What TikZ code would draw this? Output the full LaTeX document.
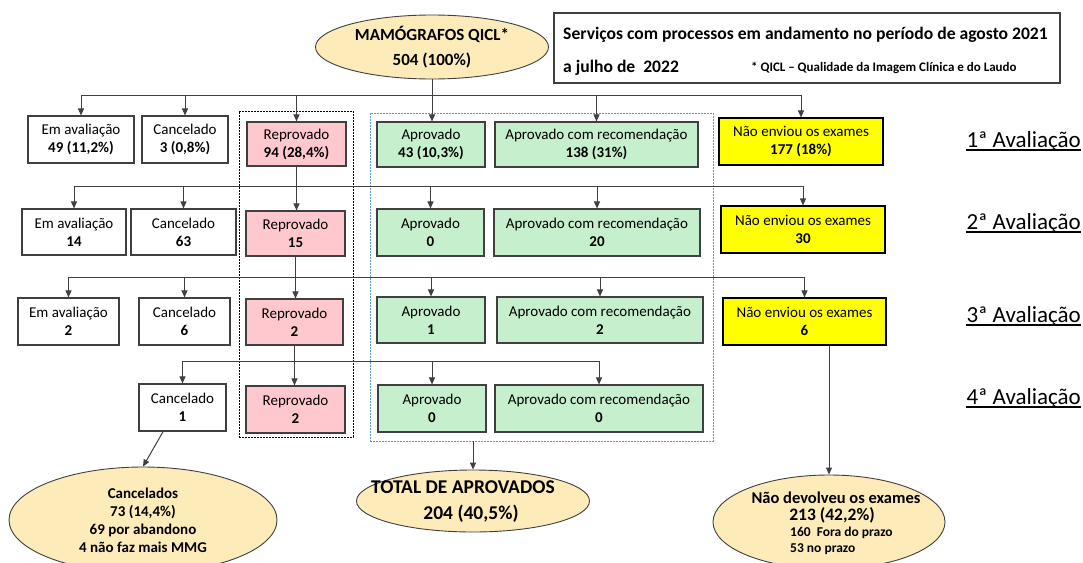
\documentclass[tikz,border=0pt]{standalone}
\usepackage{fontspec}
\setmainfont{Carlito}
\usetikzlibrary{arrows.meta,calc,shapes.geometric}
\definecolor{pinkf}{HTML}{FFC7CE}
\definecolor{greenf}{HTML}{C6EFCE}
\definecolor{yellowf}{HTML}{FFFF00}
\definecolor{beige}{HTML}{FDEBBA}
\definecolor{edge}{HTML}{404040}
\definecolor{bluedash}{HTML}{5B9BD5}
\begin{document}
\begin{tikzpicture}[x=1pt,y=-1pt,
  box/.style={draw=edge, line width=1.1pt, inner sep=0pt, align=center, font=\fontsize{15}{18}\selectfont},
  wbox/.style={box, fill=white},
  rbox/.style={box, fill=pinkf},
  gbox/.style={box, fill=greenf},
  ybox/.style={box, fill=yellowf, draw=black},
  ell/.style={ellipse, draw=edge, fill=beige, line width=0.9pt, inner sep=0pt, align=center},
  ln/.style={draw=edge, line width=1pt},
  arr/.style={draw=edge, line width=1pt, -{Triangle[length=7pt,width=6pt]}},
  lab/.style={anchor=base east, inner sep=0pt, font=\fontsize{23}{23}\selectfont},
  ul/.style={line width=1.4pt}
]
\useasboundingbox (0,0) rectangle (1083,562);

% frames
\node[draw=black, line width=0.8pt, dash pattern=on 2pt off 1pt, minimum width=114pt, minimum height=326pt, inner sep=0pt] (RF) at (296,274) {};
\node[draw=bluedash, line width=0.8pt, dash pattern=on 2pt off 1pt, minimum width=343pt, minimum height=328pt, inner sep=0pt] (AF) at (541.5,277) {};

% header
\node[draw=edge, line width=1.1pt, minimum width=506pt, minimum height=70pt, inner sep=0pt] (HB) at (807,48) {};
\node[anchor=west, inner sep=0pt, font=\bfseries\fontsize{17.6}{20}\selectfont] (H1) at (563,35) {Serviços com processos em andamento no período de agosto 2021};
\node[anchor=west, inner sep=0pt, font=\bfseries\fontsize{17.6}{20}\selectfont] (H2) at (563,68) {a julho de\ \ 2022};
\node[anchor=west, inner sep=0pt, font=\bfseries\fontsize{13}{15}\selectfont] (H3) at (751,68) {* QICL – Qualidade da Imagem Clínica e do Laudo};

% top ellipse
\node[ell, minimum width=233pt, minimum height=64pt, font=\bfseries\fontsize{17}{25}\selectfont] (M) at (432,47) {MAMÓGRAFOS QICL*\\504 (100\%)};

% row 1
\node[wbox, minimum width=106pt, minimum height=47pt] (EA1) at (81,139.5) {Em avaliação\\\textbf{49 (11,2\%)}};
\node[wbox, minimum width=86pt, minimum height=47pt] (C1) at (185,139.5) {Cancelado\\\textbf{3 (0,8\%)}};
\node[rbox, minimum width=99pt, minimum height=44pt] (R1) at (296.5,144) {Reprovado\\\textbf{94 (28,4\%)}};
\node[gbox, minimum width=108pt, minimum height=45pt] (A1) at (431,144.5) {Aprovado\\\textbf{43 (10,3\%)}};
\node[gbox, minimum width=203pt, minimum height=45pt] (AR1) at (596.5,144.5) {Aprovado com recomendação\\\textbf{138 (31\%)}};
\node[ybox, minimum width=164pt, minimum height=47pt] (NE1) at (801,141.5) {Não enviou os exames\\\textbf{177 (18\%)}};

% row 2
\node[wbox, minimum width=104pt, minimum height=46pt] (EA2) at (74,232) {Em avaliação\\\textbf{14}};
\node[wbox, minimum width=105pt, minimum height=46pt] (C2) at (183.5,232) {Cancelado\\\textbf{63}};
\node[rbox, minimum width=99pt, minimum height=45pt] (R2) at (295.5,233.5) {Reprovado\\\textbf{15}};
\node[gbox, minimum width=107pt, minimum height=47pt] (A2) at (430.5,232.5) {Aprovado\\\textbf{0}};
\node[gbox, minimum width=206pt, minimum height=47pt] (AR2) at (597,232.5) {Aprovado com recomendação\\\textbf{20}};
\node[ybox, minimum width=164pt, minimum height=47pt] (NE2) at (803,229.5) {Não enviou os exames\\\textbf{30}};

% row 3
\node[wbox, minimum width=101pt, minimum height=47pt] (EA3) at (68.5,321.5) {Em avaliação\\\textbf{2}};
\node[wbox, minimum width=91pt, minimum height=47pt] (C3) at (184.5,321.5) {Cancelado\\\textbf{6}};
\node[rbox, minimum width=97pt, minimum height=46pt] (R3) at (294.5,322) {Reprovado\\\textbf{2}};
\node[gbox, minimum width=108pt, minimum height=46pt] (A3) at (431,320) {Aprovado\\\textbf{1}};
\node[gbox, minimum width=206pt, minimum height=46pt] (AR3) at (600,320) {Aprovado com recomendação\\\textbf{2}};
\node[ybox, minimum width=163pt, minimum height=47pt] (NE3) at (804.5,321.5) {Não enviou os exames\\\textbf{6}};

% row 4
\node[wbox, minimum width=87pt, minimum height=47pt] (C4) at (182.5,407.5) {Cancelado\\\textbf{1}};
\node[rbox, minimum width=99pt, minimum height=47pt] (R4) at (295.5,409.5) {Reprovado\\\textbf{2}};
\node[gbox, minimum width=108pt, minimum height=47pt] (A4) at (432,408.5) {Aprovado\\\textbf{0}};
\node[gbox, minimum width=208pt, minimum height=47pt] (AR4) at (599,408.5) {Aprovado com recomendação\\\textbf{0}};

% bottom ellipses
\node[ell, minimum width=268pt, minimum height=106pt, font=\bfseries\fontsize{15}{18}\selectfont] (CE) at (143,520) {Cancelados\\73 (14,4\%)\\69 por abandono\\4 não faz mais MMG};
\node[ell, minimum width=233pt, minimum height=62pt] (T) at (473,501) {};
\node[inner sep=0pt, font=\bfseries\fontsize{19.5}{22}\selectfont] (T1) at (463,487) {TOTAL DE APROVADOS};
\node[inner sep=0pt, font=\bfseries\fontsize{19.5}{22}\selectfont] (T2) at (471,514) {204 (40,5\%)};
\node[ell, minimum width=232pt, minimum height=94pt] (ND) at (829,522) {};
\node[inner sep=0pt, font=\bfseries\fontsize{16.5}{18}\selectfont] (ND1) at (836,498) {Não devolveu os exames};
\node[inner sep=0pt, font=\bfseries\fontsize{17.5}{19}\selectfont] (ND2) at (832,515) {213 (42,2\%)};
\node[anchor=west, inner sep=0pt, font=\bfseries\fontsize{13.5}{15}\selectfont] (ND3) at (790,533) {160\ \ Fora do prazo};
\node[anchor=west, inner sep=0pt, font=\bfseries\fontsize{13.5}{15}\selectfont] (ND4) at (790,549) {53 no prazo};

% labels
\node[lab] (L1) at (1081,147) {1ª Avaliação};
\node[lab] (L2) at (1081,229) {2ª Avaliação};
\node[lab] (L3) at (1081,322) {3ª Avaliação};
\node[lab] (L4) at (1081,404) {4ª Avaliação};
\foreach \l in {L1,L2,L3,L4}
  \draw[ul] ([yshift=-3pt]\l.base west) -- ([yshift=-3pt]\l.base east);

% level coordinates
\coordinate (h1) at (0,95);
\coordinate (h2) at (0,186);
\coordinate (h3) at (0,277);
\coordinate (h4) at (0,361);

% row 1 connectors
\draw[arr] (M.south) -- (M.south |- A1.north);
\draw[ln] (EA1.north |- h1) -- (NE1.north |- h1);
\foreach \b in {EA1,C1,R1,AR1,NE1}
  \draw[arr] (\b.north |- h1) -- (\b.north);

% reprovado chain
\draw[arr] (R1.south) -- (R1.south |- R2.north);
\draw[arr] (R2.south) -- (R2.south |- R3.north);
\draw[arr] (R3.south) -- (R3.south |- R4.north);

% row 2
\draw[ln] (EA2.north |- h2) -- (NE2.north |- h2);
\foreach \b in {EA2,C2,A2,AR2,NE2}
  \draw[arr] (\b.north |- h2) -- (\b.north);

% row 3
\draw[ln] (EA3.north |- h3) -- (NE3.north |- h3);
\foreach \b in {EA3,C3,A3,AR3,NE3}
  \draw[arr] (\b.north |- h3) -- (\b.north);

% row 4
\draw[ln] (C4.north |- h4) -- (AR4.north |- h4);
\foreach \b in {C4,A4,AR4}
  \draw[arr] (\b.north |- h4) -- (\b.north);

% to bottom ellipses
\draw[arr] ($(C4.south west)!0.28!(C4.south east)$) -- (CE.north);
\draw[arr] (T.north |- AF.south) -- (T.north);
\draw[arr] (ND.north |- NE3.south) -- (ND.north);
\end{tikzpicture}
\end{document}
